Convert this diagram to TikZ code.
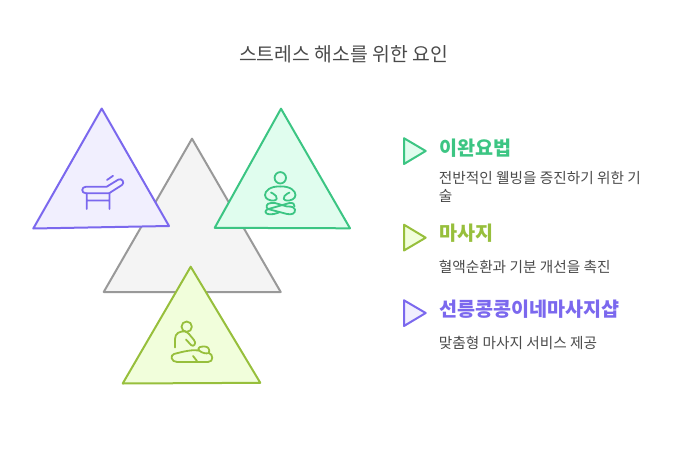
\documentclass[tikz,border=0pt]{standalone}
\usepackage{fontspec}
\setmainfont{Noto Sans CJK KR}
\definecolor{txt}{HTML}{4A4A4A}
\definecolor{grayL}{HTML}{999999}\definecolor{grayF}{HTML}{F4F4F4}
\definecolor{purL}{HTML}{7B68EE}\definecolor{purF}{HTML}{F1EFFE}
\definecolor{grnL}{HTML}{3CC583}\definecolor{grnF}{HTML}{E0FDEE}
\definecolor{limL}{HTML}{97BF3C}\definecolor{limF}{HTML}{F1FEDB}
\tikzset{
 tri/.style={line width=1.5pt,line join=round},
 ico/.style={line width=1.35pt,line cap=round,line join=round},
 head/.style={anchor=west,font=\fontsize{14.7pt}{16pt}\selectfont\bfseries,inner sep=0pt},
 body/.style={anchor=west,font=\fontsize{11pt}{12pt}\selectfont,text=txt,inner sep=0pt},
}
\begin{document}
\begin{tikzpicture}[x=0.75pt,y=-0.75pt]
\useasboundingbox (0,0) rectangle (686,450);
\node[anchor=center,inner sep=0pt,text=txt,font=\fontsize{14.5pt}{16pt}\selectfont] (title) at (343.5,54.5) {스트레스 해소를 위한 요인};
% big triangles
\draw[tri,draw=grayL,fill=grayF] (192,138.7)--(103.7,292)--(280.7,292)--cycle;
\draw[tri,draw=purL,fill=purF] (101.7,108.5)--(33.3,228.5)--(169,226)--cycle;
\draw[tri,draw=grnL,fill=grnF] (281,108.7)--(214.7,227.8)--(350,228.3)--cycle;
\draw[tri,draw=limL,fill=limF] (190.7,266.7)--(122.7,383.5)--(260.3,382.8)--cycle;
% bed icon
\draw[ico,draw=purL] (86,186.7)--(106.7,186.7)--(118.3,179.6) .. controls (122,177.5) and (125,183) .. (122,185)--(109,193.3)--(86,193.3) .. controls (81,193.3) and (81,186.7) .. (86,186.7)--cycle;
\draw[ico,draw=purL] (86.7,193.3)--(86.7,209) (109.5,193.3)--(109.5,209) (86.7,200.5)--(109.5,200.5) (107,180)--(113,175.8);
% meditation icon
\draw[ico,draw=grnL] (280.3,177.8) circle (5.7);
\draw[ico,draw=grnL] (280.3,186.5) .. controls (270,186) and (265,191) .. (265,195) .. controls (265,199) and (270,201) .. (274,200.5) .. controls (277,200) and (277.5,198) .. (276,196) .. controls (275,194) and (272,193.5) .. (271,192.5);
\draw[ico,draw=grnL] (280.3,186.5) .. controls (290.5,186) and (295.5,191) .. (295.5,195) .. controls (295.5,199) and (290.5,201) .. (286.5,200.5) .. controls (283.5,200) and (283,198) .. (284.5,196) .. controls (285.5,194) and (288.5,193.5) .. (289.5,192.5);
\draw[ico,draw=grnL] (271,203) .. controls (266,203) and (265.5,208) .. (268,209) -- (287,214) .. controls (292,215) and (295.5,213.5) .. (295,209.5) .. controls (294.5,207) and (292,206.5) .. (287,206.5) -- (275,203) -- cycle;
\draw[ico,draw=grnL] (289.5,203) .. controls (293,202.5) and (295,204) .. (294.5,206.5);
\draw[ico,draw=grnL] (289.5,203) -- (272,208) .. controls (268,209) and (265,210) .. (265.5,212) .. controls (266,214.5) and (270,214.5) .. (274,214) -- (279,212.5);
% massage icon
\draw[ico,draw=limL] (186.7,326.7) circle (5.2);
\draw[ico,draw=limL] (175,347.5)--(175,339) .. controls (175,333) and (180,331) .. (185,331.5) .. controls (187,332) and (188,333) .. (189,334) -- (194,340) .. controls (197,343.5) and (193.5,347.5) .. (191,345) -- (186,339.5);
\draw[ico,draw=limL] (174,354) .. controls (185,351) and (193,349.5) .. (199,350.5) .. controls (197,347) and (201,346.5) .. (204.5,346.5) .. controls (208,346.5) and (210,349) .. (209,353) .. controls (213,354) and (214,362) .. (208,362) -- (177,362) .. controls (171,362) and (170,355) .. (174,354)--cycle;
\draw[ico,draw=limL] (193,356)--(197,361);
\draw[ico,draw=limL] (199,350.5) .. controls (202,353) and (206,354) .. (209,353);
% legend
\draw[tri,draw=grnL,fill=grnF] (404,138.2)--(404,164)--(425.7,151)--cycle;
\draw[tri,draw=limL,fill=limF] (404,224.7)--(404,250.5)--(425.7,237.7)--cycle;
\draw[tri,draw=purL,fill=purF] (404,300.3)--(404,326)--(425.7,313)--cycle;
\node[head,text=grnL] (h1) at (439,148) {이완요법};
\node[body] (b1) at (438.5,178) {전반적인 웰빙을 증진하기 위한 기};
\node[body] (b1b) at (438.5,196) {술};
\node[head,text=limL] (h2) at (439,233.5) {마사지};
\node[body] (b2) at (438.5,267) {혈액순환과 기분 개선을 촉진};
\node[head,text=purL] (h3) at (439,309.5) {선릉콩콩이네마사지샵};
\node[body] (b3) at (438.5,343) {맞춤형 마사지 서비스 제공};
\end{tikzpicture}
\end{document}
